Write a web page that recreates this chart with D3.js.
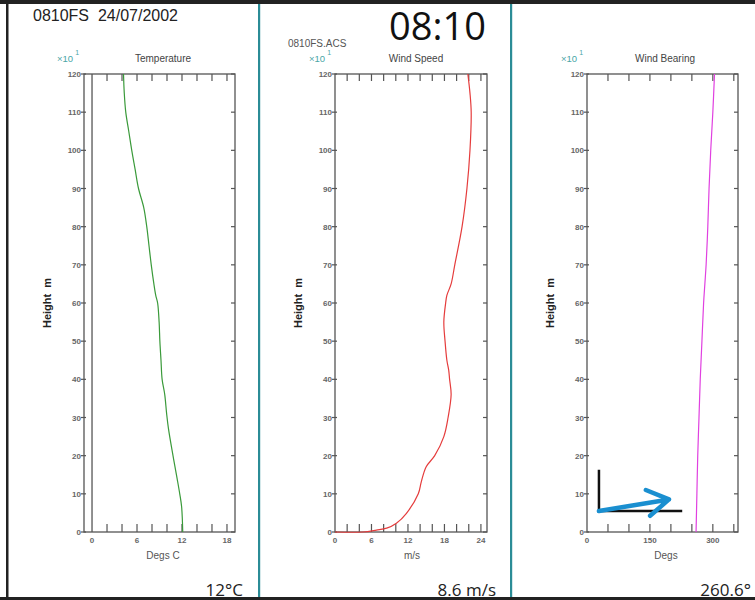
<!DOCTYPE html>
<html><head><meta charset="utf-8">
<script src="https://cdn.jsdelivr.net/npm/d3@7"></script>
<style>body{margin:0;background:#fff}svg{display:block}</style>
</head><body>
<svg id="c" width="755" height="600"></svg>
<script>
// ---- data ----
const heights = [0, 10, 20, 30, 40, 50, 60, 70, 80, 90, 100, 110, 120];
const tempH = [0, 6.6, 10, 14, 20, 27, 31, 36, 40, 45, 50, 55, 60, 62, 65, 70, 75, 80, 85, 90, 95, 100, 105, 110, 115, 120];
const tempT = [12.1, 11.95, 11.7, 11.35, 10.8, 10.2, 9.95, 9.7, 9.35, 9.2, 9.05, 8.95, 8.75, 8.5, 8.25, 7.9, 7.6, 7.3, 6.9, 6.2, 5.75, 5.3, 4.9, 4.5, 4.3, 4.2];
const speedH = [0, 0, 0.5, 1, 2.3, 4.9, 10, 13.2, 17.1, 20, 25, 30, 36, 40, 42.4, 45, 50, 55, 60, 62, 65, 70, 80, 90, 100, 110, 115, 120];
const speedV = [0, 4.6, 6.8, 8.5, 10.1, 11.75, 13.7, 14.2, 15.0, 16.4, 17.9, 18.6, 19.1, 18.85, 18.7, 18.4, 18.1, 17.9, 18.2, 18.4, 19.1, 19.7, 20.9, 21.7, 22.2, 22.4, 22.2, 21.85];
const bearH = [0, 10, 20, 30, 40, 50, 60, 65, 70, 80, 90, 100, 110, 120];
const bearD = [260, 262, 264, 267, 270, 274, 278, 281, 284, 288, 291, 295, 300, 304];
const tempTicks = [2, 4, 6, 8, 10, 12, 14, 16, 18];
const tempLabels = [0, 6, 12, 18];
const speedTicks = [2, 4, 6, 8, 10, 12, 14, 16, 18, 20, 22, 24];
const speedLabels = [0, 6, 12, 18, 24];
const bearTicks = [50, 100, 150, 200, 250, 300, 350];
const bearLabels = [0, 150, 300];
const header = "0810FS  24/07/2002";
const timeText = "08:10";
const fileName = "0810FS.ACS";
const surfaceTemp = 12, surfaceSpeed = 8.6, surfaceBearing = 260.6;

const svg = d3.select("#c");
const Y = d3.scaleLinear().domain([0, 120]).range([532, 74]);
const FRAME = "#555", LBL = "#666";

// page borders
svg.append("rect").attr("x",0).attr("y",0).attr("width",755).attr("height",4).attr("fill","#222");
svg.append("rect").attr("x",0).attr("y",597).attr("width",755).attr("height",3).attr("fill","#222");
svg.append("rect").attr("x",6).attr("y",0).attr("width",2.5).attr("height",600).attr("fill","#222");
[259, 511].forEach(x => svg.append("rect").attr("x",x-1).attr("y",4).attr("width",2.2).attr("height",593).attr("fill","#2b8c96"));

svg.append("text").attr("x",33).attr("y",21).attr("font-family","Liberation Sans, Arial, sans-serif")
  .attr("font-size",16).attr("fill","#222").attr("xml:space","preserve").text(header);
svg.append("text").attr("x",389).attr("y",40).attr("font-family","Open Sans, Noto Sans, sans-serif")
  .attr("font-size",38).attr("fill","#111").text(timeText);
svg.append("text").attr("x",288).attr("y",47).attr("font-family","Liberation Sans, Arial, sans-serif")
  .attr("font-size",10).attr("fill","#555").text(fileName);

function panel(o) {
  const g = svg.append("g");
  const X = d3.scaleLinear().domain(o.domain).range(o.range);
  const x0 = o.range[0], x1 = o.range[1], y0 = Y(0), y1 = Y(120);
  g.append("rect").attr("x",x0).attr("y",y1).attr("width",x1-x0).attr("height",y0-y1)
    .attr("fill","none").attr("stroke",FRAME).attr("stroke-width",1.3);
  if (o.innerZero) g.append("line").attr("x1",X(0)).attr("x2",X(0)).attr("y1",y1).attr("y2",y0)
    .attr("stroke",FRAME).attr("stroke-width",1.3);
  o.ticks.forEach(t => {
    g.append("line").attr("x1",X(t)).attr("x2",X(t)).attr("y1",y0).attr("y2",y0-8).attr("stroke",FRAME).attr("stroke-width",1.2);
    g.append("line").attr("x1",X(t)).attr("x2",X(t)).attr("y1",y1).attr("y2",y1+7).attr("stroke",FRAME).attr("stroke-width",1.2);
  });
  heights.forEach(h => {
    g.append("line").attr("x1",x0-3).attr("x2",x0+2).attr("y1",Y(h)).attr("y2",Y(h)).attr("stroke",FRAME).attr("stroke-width",1.2);
    g.append("line").attr("x1",x1-4).attr("x2",x1).attr("y1",Y(h)).attr("y2",Y(h)).attr("stroke",FRAME).attr("stroke-width",1.2);
    g.append("text").attr("x",x0-3).attr("y",Y(h)+3).attr("text-anchor","end")
      .attr("font-family","Liberation Sans, Arial, sans-serif").attr("font-size",8).attr("font-weight","bold")
      .attr("fill",LBL).text(h);
  });
  o.labels.forEach(t => g.append("text").attr("x",X(t)).attr("y",y0+11).attr("text-anchor","middle")
    .attr("font-family","Liberation Sans, Arial, sans-serif").attr("font-size",8).attr("font-weight","bold")
    .attr("fill",LBL).text(t));
  g.append("text").attr("x",o.titleX).attr("y",62).attr("text-anchor","middle")
    .attr("font-family","Liberation Sans, Arial, sans-serif").attr("font-size",10).attr("fill","#444").text(o.title);
  g.append("text").attr("x",o.xTitleX).attr("y",559).attr("text-anchor","middle")
    .attr("font-family","Liberation Sans, Arial, sans-serif").attr("font-size",10).attr("fill","#555").text(o.xTitle);
  g.append("text").attr("transform",`translate(${x0-33},${Y(60)}) rotate(-90)`).attr("text-anchor","middle")
    .attr("font-family","Liberation Sans, Arial, sans-serif").attr("font-size",11).attr("font-weight","bold")
    .attr("fill","#222").attr("xml:space","preserve").text("Height  m");
  const m = g.append("text").attr("x",o.multX).attr("y",62).attr("font-family","Liberation Sans, Arial, sans-serif")
    .attr("font-size",9.5).attr("fill","#4aa6a6");
  m.append("tspan").text("×10");
  m.append("tspan").attr("dx",2).attr("dy",-7).attr("font-size",7).text("1");
  const line = d3.line().x(d => X(d[1])).y(d => Y(d[0])).curve(d3.curveCatmullRom);
  g.append("path").datum(o.h.map((h,i) => [h, o.v[i]])).attr("d",line)
    .attr("fill","none").attr("stroke",o.color).attr("stroke-width",1.2);
  g.append("text").attr("x",o.valX).attr("y",596).attr("text-anchor","end")
    .attr("font-family","Open Sans, Noto Sans, sans-serif").attr("font-size",17).attr("fill","#222").text(o.value);
  return X;
}

panel({domain:[-1.07,19.07], range:[84,235], innerZero:true, ticks:tempTicks, labels:tempLabels,
  title:"Temperature", titleX:163, xTitle:"Degs C", xTitleX:163, multX:57, color:"#3a9a3a",
  h:tempH, v:tempT, value:surfaceTemp+"°C", valX:243});
panel({domain:[0,25], range:[335,487], ticks:speedTicks, labels:speedLabels,
  title:"Wind Speed", titleX:416, xTitle:"m/s", xTitleX:412, multX:309, color:"#e53c3c",
  h:speedH, v:speedV, value:surfaceSpeed+" m/s", valX:496});
const XB = panel({domain:[0,360], range:[587,738], ticks:bearTicks, labels:bearLabels,
  title:"Wind Bearing", titleX:665, xTitle:"Degs", xTitleX:666, multX:561, color:"#e040e0",
  h:bearH, v:bearD, value:surfaceBearing+"°", valX:751});

// wind direction glyph (computed from surface bearing)
const ox = XB(28.5), oy = Y(5.5);
svg.append("path").attr("d",`M${ox},${Y(16.3)}V${oy}H${XB(227)}`).attr("fill","none")
  .attr("stroke","#111").attr("stroke-width",2.5);
const ang = (surfaceBearing + 180) * Math.PI / 180;
const L = 71;
const tx = ox + L * Math.sin(ang), ty = oy - L * Math.cos(ang);
const back = Math.atan2(oy - ty, ox - tx);
const hl = 25, spread = 0.55;
svg.append("path").attr("d",
  `M${ox},${oy}L${tx},${ty}M${tx + hl*Math.cos(back+spread)},${ty + hl*Math.sin(back+spread)}L${tx},${ty}L${tx + hl*Math.cos(back-spread)},${ty + hl*Math.sin(back-spread)}`)
  .attr("fill","none").attr("stroke","#1a8fd0").attr("stroke-width",4.5).attr("stroke-linecap","round").attr("stroke-linejoin","round");
</script>
</body></html>
